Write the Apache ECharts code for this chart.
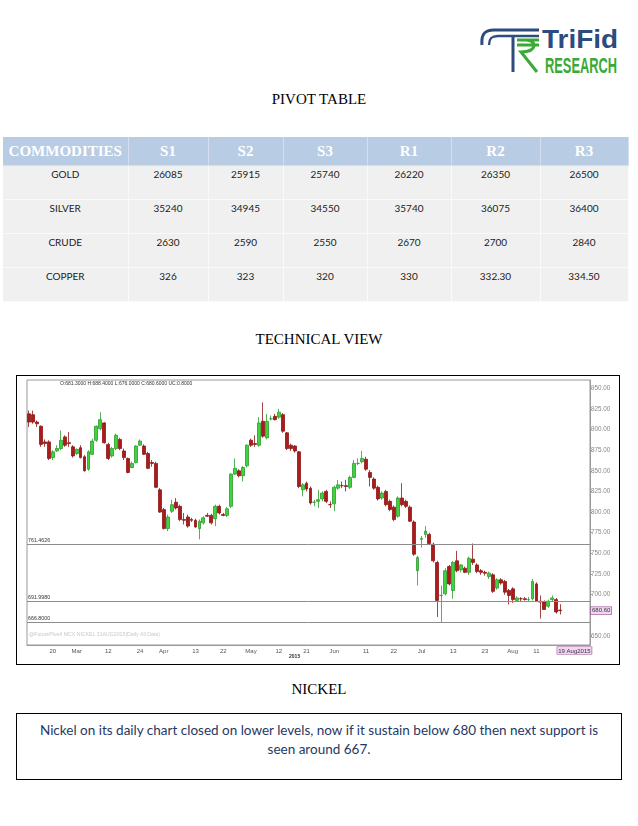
<!DOCTYPE html>
<html><head><meta charset="utf-8">
<script src="https://cdn.jsdelivr.net/npm/echarts@6/dist/echarts.min.js"></script>
<style>
html,body{margin:0;padding:0;background:#fff;width:638px;height:826px;overflow:hidden;}
.ttl{position:absolute;left:0;width:638px;text-align:center;font-family:"Liberation Serif","Times New Roman",serif;font-size:15px;color:#000;line-height:16px;}
#tbl{position:absolute;left:3px;top:137px;border-collapse:collapse;table-layout:fixed;width:625px;}
#tbl th{height:28px;padding:0;background:#b8cce4;color:#fff;font-family:"Liberation Serif",serif;font-weight:bold;font-size:15px;text-align:center;vertical-align:middle;border-right:1px solid #d3dff0;border-bottom:1px solid #d3dff0;}
#tbl td{height:34px;padding:2px 0 0 0;box-sizing:border-box;background:#f0f0f0;color:#222;font-family:Lato,"Liberation Sans",sans-serif;font-size:10px;text-align:center;vertical-align:top;border-right:1px solid #fafafa;border-bottom:1px solid #fafafa;}
#box{position:absolute;left:16px;top:375px;width:604px;height:290px;border:1.5px solid #000;box-sizing:border-box;}
#c{position:absolute;left:0;top:0;width:601px;height:287px;}
#note{position:absolute;left:16px;top:713px;width:606px;height:67px;border:1.5px solid #000;box-sizing:border-box;text-align:center;font-family:Lato,"Liberation Sans",sans-serif;font-size:13.5px;line-height:19px;color:#1f3864;padding-top:7px;}
</style></head>
<body>
<svg style="position:absolute;left:0;top:0" width="638" height="90">
  <path d="M482 45 C481 34 485 30 494 30 L539 30" stroke="#2d4b7c" stroke-width="3" fill="none"/>
  <path d="M489 45 C489 39 491 36 498 36 L539 36" stroke="#2d4b7c" stroke-width="2.4" fill="none"/>
  <line x1="513" y1="37" x2="513" y2="72" stroke="#2d4b7c" stroke-width="3"/>
  <path d="M517 40 L539 40 M517 45 L539 45 M526 40 C537 40 538 52 521 52 L537 72" stroke="#3aa935" stroke-width="3" fill="none"/>
  <text x="542" y="48" font-family="Liberation Sans, Arial, sans-serif" font-weight="bold" font-size="25" fill="#2d4b7c" textLength="76" lengthAdjust="spacingAndGlyphs">TriFid</text>
  <text x="545" y="73" font-family="Liberation Sans, Arial, sans-serif" font-weight="bold" font-size="22" fill="#3aa935" textLength="72" lengthAdjust="spacingAndGlyphs">RESEARCH</text>
</svg>
<div class="ttl" style="top:91px">PIVOT TABLE</div>
<table id="tbl"></table>
<div class="ttl" style="top:331px">TECHNICAL VIEW</div>
<div id="box"><div id="c"></div></div>
<div class="ttl" style="top:681px">NICKEL</div>
<div id="note">Nickel on its daily chart closed on lower levels, now if it sustain below 680 then next support is<br>seen around 667.</div>
<script>
// ---------- pivot table data ----------
const pivotHeaders = ['COMMODITIES','S1','S2','S3','R1','R2','R3'];
const pivotCommodities = ['GOLD','SILVER','CRUDE','COPPER'];
const pivotS1 = ['26085','35240','2630','326'];
const pivotS2 = ['25915','34945','2590','323'];
const pivotS3 = ['25740','34550','2550','320'];
const pivotR1 = ['26220','35740','2670','330'];
const pivotR2 = ['26350','36075','2700','332.30'];
const pivotR3 = ['26500','36400','2840','334.50'];

// ---------- nickel daily candles (15 Feb 12 .. 15 Aug 19, trading days) ----------
const firstTradeDate = '2015-02-12';
const lastTradeDate = '2015-08-19';
const axisEndDate = '2015-08-28';
const opens = [919,918,909,904,885,885,866,874,877,891,884,879,871,878,867,852,870,887,901,908,
882,868,877,888,874,865,854,860,881,880,871,860,859,827,803,780,801,812,807,791,
794,791,790,780,787,796,796,792,807,797,796,807,846,850,844,856,887,883,881,910,
890,913,916,915,918,896,881,880,873,827,835,829,812,813,816,825,809,810,829,832,
832,830,842,859,861,864,848,840,830,817,825,813,806,795,817,813,806,788,729,767,
773,773,761,739,699,701,734,705,741,730,732,727,743,736,729,727,722,724,708,718,
716,705,707,693,695,695,694,695,713,692,691,686,694,694,681.3];
const highs = [923,923,911,905,888,887,875,881,899,893,897,881,877,881,869,875,889,905,921,909,
884,879,895,890,877,866,861,881,888,882,873,863,861,829,805,797,815,817,809,799,
797,793,792,791,795,799,798,809,809,799,806,847,865,852,856,882,889,893,915,933,
919,917,919,925,920,897,883,881,874,835,837,831,815,827,825,827,813,832,839,837,
839,844,863,865,874,867,851,842,832,825,827,815,808,819,835,815,808,790,747,771,
783,775,763,741,711,732,736,741,753,737,734,746,762,738,731,729,728,726,720,720,
718,707,709,698,697,697,697,719,715,699,693,694,699,696,688.4];
const lows = [903,907,903,879,879,863,863,873,875,879,879,866,869,865,849,850,869,885,899,883,
863,866,875,875,863,847,853,859,880,869,852,855,829,799,779,777,799,803,789,785,
781,788,781,767,785,794,785,783,797,795,794,805,845,842,837,854,879,879,879,890,
888,911,911,913,896,875,874,872,829,819,825,809,807,805,813,811,805,801,827,829,
825,828,841,857,859,850,831,827,814,815,807,801,789,793,807,805,788,747,711,757,
769,760,739,673,666.8,699,711,695,727,727,726,724,736,726,724,723,719,702,706,712,
700,688,690,691,692,693,691,693,691,671,682,684,692,677,676];
const closes = [909,909,907,882,883,865,873,877,887,881,883,868,876,866,850,873,886,904,912,884,
865,877,893,877,866,848,859,880,886,870,853,859,830,800,780,794,809,805,791,790,
783,790,782,789,793,795,787,807,799,796,804,846,853,844,854,881,881,882,908,892,
910,913,912,921,898,877,877,874,831,833,828,811,812,815,823,813,809,830,833,832,
831,842,859,859,865,852,842,829,816,823,809,803,791,817,809,807,789,749,745,768,
777,762,741,693,699,729,713,739,729,736,727,744,739,728,727,726,726,704,718,714,
703,699,694,696,695,694,694,716,692,691,682,692,696,679,680.6];

// ---------- axis / levels ----------
const yTicks = [650,700,725,750,775,800,825,850,875,900,925,950];
const yMin = 639, yMax = 960;
const xLabelDates = ['2015-02-20','2015-03-02','2015-03-12','2015-03-24','2015-04-01','2015-04-13','2015-04-22','2015-05-01','2015-05-12','2015-05-21','2015-06-01','2015-06-11','2015-06-22','2015-07-01','2015-07-13','2015-07-23','2015-08-03','2015-08-11'];
const xLabelTexts = ['20','Mar','12','24','Apr','13','22','May','12','21','Jun','11','22','Jul','13','23','Aug','11'];
const levelLines = [761.4626, 691.998, 666.8];
const lastPrice = 680.6;
const headerText = 'O:681.3000 H:688.4000 L:676.0000 C:680.6000 UC:0.8000';
const sourceText = '@FuturePlus4 MCX NICKEL 31AUG2015(Daily All Data)';

// build table
(function(){
  const t = document.getElementById('tbl');
  const widths = [125,80,75,84,84,89,88];
  let h = '<colgroup>' + widths.map(w=>'<col style="width:'+w+'px">').join('') + '</colgroup>';
  h += '<tr>' + pivotHeaders.map(x=>'<th>'+x+'</th>').join('') + '</tr>';
  pivotCommodities.forEach((c,i)=>{
    h += '<tr><td>'+c+'</td><td>'+pivotS1[i]+'</td><td>'+pivotS2[i]+'</td><td>'+pivotS3[i]+'</td><td>'+pivotR1[i]+'</td><td>'+pivotR2[i]+'</td><td>'+pivotR3[i]+'</td></tr>';
  });
  t.innerHTML = h;
})();

// trading-day categories (weekdays)
function weekdays(a, b){
  const out = [];
  let d = new Date(a + 'T00:00:00Z');
  const e = new Date(b + 'T00:00:00Z');
  while (d <= e){
    const w = d.getUTCDay();
    if (w !== 0 && w !== 6) out.push(d.toISOString().slice(0,10));
    d = new Date(d.getTime() + 86400000);
  }
  return out;
}
const dates = weekdays(firstTradeDate, axisEndDate);
const candleData = opens.map((o,i)=>[o, closes[i], lows[i], highs[i]]);
const labelIdx = {};
xLabelDates.forEach((d,i)=>{ labelIdx[d] = xLabelTexts[i]; });
const showLabel = (i, v) => labelIdx[v] !== undefined;

const chart = echarts.init(document.getElementById('c'));
const FONT = 'Liberation Sans';
chart.setOption({
  animation:false,
  grid:{left:10, right:28, top:4, bottom:18, show:true, borderColor:'#9a9a9a', borderWidth:1},
  xAxis:{type:'category', data:dates, boundaryGap:true,
    axisLine:{lineStyle:{color:'#9a9a9a'}},
    axisTick:{interval:showLabel, alignWithLabel:true, length:2, lineStyle:{color:'#888'}},
    axisLabel:{interval:showLabel, formatter: v => labelIdx[v] || '', fontSize:6, color:'#555', margin:3, fontFamily:FONT},
    splitLine:{show:false}},
  yAxis:{type:'value', position:'right', min:yMin, max:yMax,
    axisLine:{show:true, lineStyle:{color:'#9a9a9a'}},
    axisTick:{show:true, length:2, customValues:yTicks, lineStyle:{color:'#999'}},
    axisLabel:{customValues:yTicks, formatter: v => v.toFixed(2), fontSize:6.3, color:'#888', margin:1, fontFamily:FONT},
    splitLine:{show:false}},
  series:[{type:'candlestick', data:candleData, barWidth:3.4,
    itemStyle:{color:'#3ed43e', color0:'#a81c1c', borderColor:'#2f9a2f', borderColor0:'#8e1616', borderWidth:0.8},
    markLine:{symbol:'none', silent:true, animation:false,
      lineStyle:{color:'#8c8c8c', width:1, type:'solid'},
      data: levelLines.map(v=>({yAxis:v, label:{position:'insideStartTop', formatter: v.toFixed(4), fontSize:5.3, color:'#333', distance:1, fontFamily:FONT}}))
        .concat([{yAxis:lastPrice, lineStyle:{color:'rgba(0,0,0,0)', width:0},
        label:{position:'end', formatter: lastPrice.toFixed(2), backgroundColor:'#f2d5f2', borderColor:'#9a4a9a', borderWidth:0.6, padding:[1,1,0,1], color:'#333', fontSize:6, distance:1, fontFamily:FONT}}])
    }
  }]
});

const xLast = chart.convertToPixel({xAxisIndex:0}, lastTradeDate);
const xYear = chart.convertToPixel({xAxisIndex:0}, '2015-05-18');
const yBottom = chart.convertToPixel({yAxisIndex:0}, yMin);
chart.setOption({graphic:[
  {type:'text', left:43, top:5, style:{text:headerText, fontSize:5, fill:'#333', fontFamily:FONT}},
  {type:'text', left:12, top:yBottom-13, style:{text:sourceText, fontSize:5.2, fill:'#c8c8c8', fontFamily:FONT}},
  {type:'text', x:xYear, y:yBottom+9, style:{text:'2015', fontSize:5, fontWeight:'bold', fill:'#333', fontFamily:FONT, align:'center'}},
  {type:'text', x:xLast-3, y:yBottom+2, style:{text:'19 Aug2015', fontSize:6, fill:'#333', fontFamily:FONT, backgroundColor:'#f2d5f2', borderColor:'#9a4a9a', borderWidth:0.6, padding:[1,1,0,1]}}
]});
</script>
</body></html>
